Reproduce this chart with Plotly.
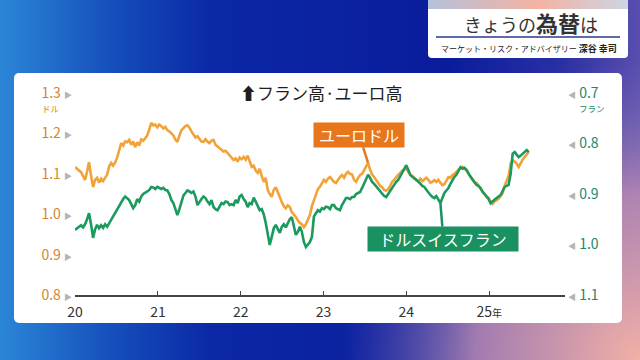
import base64
import pandas as pd
import plotly.graph_objects as go

# ---------------- data ----------------
eurusd = [1.117, 1.112, 1.108, 1.104, 1.095, 1.085, 1.105, 1.129, 1.095, 1.067, 1.085, 1.090, 1.078, 1.088, 1.082, 1.092,
          1.098, 1.118, 1.127, 1.120, 1.128, 1.140, 1.160, 1.176, 1.170, 1.180, 1.178, 1.184, 1.172, 1.180, 1.166, 1.178,
          1.170, 1.185, 1.182, 1.189, 1.195, 1.210, 1.226, 1.220, 1.222, 1.215, 1.222, 1.218, 1.212, 1.216, 1.208, 1.205,
          1.200, 1.195, 1.185, 1.179, 1.195, 1.208, 1.213, 1.218, 1.220, 1.214, 1.205, 1.198, 1.190, 1.193, 1.185, 1.180,
          1.179, 1.186, 1.180, 1.176, 1.182, 1.184, 1.172, 1.168, 1.164, 1.160, 1.155, 1.157, 1.151, 1.145, 1.140, 1.134,
          1.138, 1.130, 1.140, 1.136, 1.142, 1.135, 1.145, 1.130, 1.117, 1.120, 1.108, 1.102, 1.112, 1.095, 1.080, 1.090,
          1.060, 1.050, 1.043, 1.060, 1.067, 1.055, 1.040, 1.030, 1.020, 1.015, 1.022, 1.018, 1.005, 1.000, 0.993, 0.985,
          0.978, 0.975, 0.968, 0.975, 0.985, 0.998, 1.020, 1.035, 1.050, 1.062, 1.068, 1.077, 1.085, 1.080, 1.088, 1.092,
          1.085, 1.080, 1.077, 1.085, 1.092, 1.097, 1.090, 1.100, 1.105, 1.100, 1.098, 1.085, 1.080, 1.090, 1.097, 1.100,
          1.108, 1.118, 1.127, 1.110, 1.098, 1.092, 1.085, 1.075, 1.070, 1.067, 1.060, 1.058, 1.062, 1.070, 1.080, 1.085,
          1.092, 1.098, 1.102, 1.108, 1.110, 1.114, 1.105, 1.097, 1.095, 1.090, 1.085, 1.080, 1.088, 1.082, 1.086, 1.090,
          1.085, 1.078, 1.080, 1.084, 1.080, 1.085, 1.078, 1.072, 1.074, 1.085, 1.092, 1.090, 1.097, 1.100, 1.105, 1.110,
          1.114, 1.117, 1.112, 1.108, 1.100, 1.095, 1.088, 1.080, 1.077, 1.070, 1.062, 1.055, 1.050, 1.043, 1.040, 1.030,
          1.025, 1.032, 1.035, 1.038, 1.045, 1.052, 1.070, 1.085, 1.095, 1.125, 1.134, 1.130, 1.125, 1.117, 1.128, 1.135,
          1.142, 1.148, 1.154]

usdchf = [0.971, 0.968, 0.965, 0.962, 0.966, 0.960, 0.950, 0.938, 0.960, 0.987, 0.970, 0.961, 0.968, 0.962, 0.967, 0.960,
          0.965, 0.958, 0.950, 0.946, 0.938, 0.930, 0.925, 0.916, 0.910, 0.905, 0.908, 0.912, 0.920, 0.928, 0.922, 0.910,
          0.915, 0.905, 0.900, 0.898, 0.895, 0.892, 0.886, 0.887, 0.890, 0.886, 0.888, 0.890, 0.888, 0.892, 0.893, 0.900,
          0.912, 0.918, 0.930, 0.942, 0.930, 0.915, 0.903, 0.898, 0.893, 0.895, 0.898, 0.895, 0.905, 0.922, 0.915, 0.910,
          0.905, 0.908, 0.915, 0.920, 0.912, 0.926, 0.930, 0.932, 0.925, 0.918, 0.920, 0.915, 0.916, 0.922, 0.920, 0.922,
          0.912, 0.918, 0.905, 0.902, 0.910, 0.915, 0.926, 0.918, 0.920, 0.907, 0.915, 0.925, 0.932, 0.930, 0.940, 0.957,
          0.980, 1.001, 0.985, 0.968, 0.961, 0.970, 0.977, 0.965, 0.960, 0.966, 0.957, 0.950, 0.946, 0.962, 0.981, 0.975,
          0.965, 0.975, 0.995, 1.005, 1.000, 0.995, 0.985, 0.945, 0.938, 0.932, 0.935, 0.928, 0.930, 0.925, 0.926, 0.930,
          0.922, 0.922, 0.928, 0.930, 0.932, 0.922, 0.915, 0.908, 0.908, 0.910, 0.906, 0.906, 0.900, 0.898, 0.896, 0.888,
          0.880, 0.870, 0.862, 0.868, 0.876, 0.880, 0.885, 0.888, 0.895, 0.900, 0.904, 0.906, 0.900, 0.892, 0.888, 0.882,
          0.876, 0.872, 0.865, 0.856, 0.848, 0.843, 0.852, 0.862, 0.866, 0.870, 0.872, 0.875, 0.880, 0.884, 0.886, 0.892,
          0.898, 0.902, 0.906, 0.908, 0.904, 0.910, 0.918, 0.908, 0.898, 0.893, 0.888, 0.880, 0.872, 0.866, 0.862, 0.855,
          0.847, 0.850, 0.848, 0.852, 0.860, 0.866, 0.872, 0.878, 0.882, 0.884, 0.888, 0.895, 0.900, 0.906, 0.910, 0.918,
          0.914, 0.910, 0.908, 0.905, 0.902, 0.894, 0.886, 0.884, 0.882, 0.860, 0.820, 0.817, 0.822, 0.827, 0.824, 0.820,
          0.816, 0.813, 0.817]

date_start = "2020-01-01"
date_end = "2025-06-24"
eur_dates = pd.date_range(date_start, date_end, periods=len(eurusd))
chf_dates = pd.date_range(date_start, date_end, periods=len(usdchf))

x_tick_vals = ["2020-01-01", "2021-01-01", "2022-01-01", "2023-01-01", "2024-01-01", "2025-01-01"]
x_tick_text = ["20", "21", "22", "23", "24", "25<span style='font-size:10px'>年</span>"]
left_tick_vals = [0.8, 0.9, 1.0, 1.1, 1.2, 1.3]
left_tick_text = ["0.8", "0.9", "1.0", "1.1", "1.2", "1.3"]
right_tick_vals = [0.7, 0.8, 0.9, 1.0, 1.1]
right_tick_text = ["0.7", "0.8", "0.9", "1.0", "1.1"]

# ---------------- style ----------------
ORANGE = "#f2a236"
GREEN = "#1a9a5e"
ORANGE_TXT = "#d3852f"
GREEN_TXT = "#23876a"
FONT = "Noto Sans CJK JP, Noto Sans, sans-serif"
TRI = "<span style='color:#b4b4b4;font-size:8px'>%s</span>"

W, H = 640, 360
ML, MR, MT, MB = 75, 75, 93, 65
PW, PH = W - ML - MR, H - MT - MB


def px(x, y):
    return (x - ML) / PW, 1 - (y - MT) / PH


svg = f"""<svg xmlns='http://www.w3.org/2000/svg' width='{W}' height='{H}' viewBox='0 0 {W} {H}' preserveAspectRatio='none'>
<defs>
<linearGradient id='bg' x1='0' y1='0' x2='1' y2='0'>
<stop offset='0' stop-color='#2b86d6'/><stop offset='0.17' stop-color='#1650bd'/>
<stop offset='0.33' stop-color='#0b28a6'/><stop offset='0.7' stop-color='#0a1c9c'/>
<stop offset='0.88' stop-color='#2a30a4'/><stop offset='1' stop-color='#5a4eae'/>
</linearGradient>
<radialGradient id='pk' cx='640' cy='360' r='300' gradientUnits='userSpaceOnUse'>
<stop offset='0' stop-color='#f2b0a6' stop-opacity='1'/>
<stop offset='0.55' stop-color='#c592b4' stop-opacity='0.8'/>
<stop offset='1' stop-color='#8070b8' stop-opacity='0'/>
</radialGradient>
<linearGradient id='st' x1='0' y1='0' x2='1' y2='0'>
<stop offset='0' stop-color='#b4c2dc'/><stop offset='0.55' stop-color='#f4b2a2'/><stop offset='1' stop-color='#cbd6e4'/>
</linearGradient>
</defs>
<rect width='{W}' height='{H}' fill='url(#bg)'/>
<rect width='{W}' height='{H}' fill='url(#pk)'/>
<rect x='14' y='73' width='608' height='250' rx='5' fill='#ffffff'/>
<rect x='428' y='-6' width='200' height='64' rx='4' fill='#ffffff'/>
<rect x='428' y='0' width='200' height='9' fill='url(#st)'/>
<line x1='436' y1='37' x2='620' y2='37' stroke='#2a3a8c' stroke-width='1.5'/>
</svg>"""
bg_src = "data:image/svg+xml;base64," + base64.b64encode(svg.encode("utf-8")).decode("ascii")

fig = go.Figure()
fig.add_trace(go.Scatter(x=eur_dates, y=eurusd, mode="lines", line=dict(color=ORANGE, width=2.6),
                         name="ユーロドル", yaxis="y", hoverinfo="skip"))
fig.add_trace(go.Scatter(x=chf_dates, y=usdchf, mode="lines", line=dict(color=GREEN, width=2.6),
                         name="ドルスイスフラン", yaxis="y2", hoverinfo="skip"))

x0, y0 = px(0, 0)
fig.add_layout_image(dict(source=bg_src, xref="paper", yref="paper", x=x0, y=y0,
                          sizex=W / PW, sizey=H / PH, sizing="stretch",
                          xanchor="left", yanchor="top", layer="below"))

ann = []


def text_at(x, y, text, size, color, xanchor="center", **kw):
    ax_, ay_ = px(x, y)
    ann.append(dict(x=ax_, y=ay_, xref="paper", yref="paper", text=text, showarrow=False,
                    xanchor=xanchor, yanchor="middle", font=dict(size=size, color=color, family=FONT), **kw))


text_at(531, 22, "きょうの<b><span style='font-size:22px'>為替</span></b>は", 18, "#333333")
text_at(529, 48, "マーケット・リスク・アドバイザリー <b><span style='font-size:9px'>深谷 幸司</span></b>", 8, "#222222")
text_at(321, 92, "<b>⬆</b>フラン高·ユーロ高", 17, "#1e1e1e")
text_at(51, 108, "ドル", 8.5, ORANGE_TXT)
text_at(592, 108, "フラン", 8.5, GREEN_TXT)

# callout labels anchored on the series
i_e = max((k for k in range(len(eurusd)) if pd.Timestamp("2023-06-01") <= eur_dates[k] <= pd.Timestamp("2023-09-01")),
          key=lambda k: eurusd[k])
i_c = max((k for k in range(len(usdchf)) if pd.Timestamp("2024-04-15") <= chf_dates[k] <= pd.Timestamp("2024-07-01")),
          key=lambda k: usdchf[k])
ann.append(dict(x=eur_dates[i_e], y=eurusd[i_e], xref="x", yref="y", text="ユーロドル",
                showarrow=True, ax=-9, ay=-28, arrowhead=0, arrowwidth=2.5, arrowcolor="#e8761c", standoff=0,
                bgcolor="#e8761c", width=88, height=22, font=dict(size=16, color="white", family=FONT)))
ann.append(dict(x=chf_dates[i_c], y=usdchf[i_c], xref="x", yref="y2", text="ドルスイスフラン",
                showarrow=True, ax=3, ay=36, arrowhead=0, arrowwidth=2.5, arrowcolor="#1a9160", standoff=0,
                bgcolor="#1a9160", width=148, height=22, font=dict(size=16, color="white", family=FONT)))

fig.update_layout(
    width=W, height=H,
    margin=dict(l=ML, r=MR, t=MT, b=MB, autoexpand=False),
    paper_bgcolor="#0a1c9c", plot_bgcolor="rgba(0,0,0,0)",
    showlegend=False,
    font=dict(family=FONT),
    annotations=ann,
    xaxis=dict(type="date", range=["2020-01-01", "2025-12-01"], tickvals=x_tick_vals, ticktext=x_tick_text,
               showgrid=False, zeroline=False, showline=True, linecolor="#444444", linewidth=1.5,
               ticks="inside", ticklen=4, tickcolor="#444444", tickwidth=1, ticklabelstandoff=4,
               tickfont=dict(size=14, color="#333333", family=FONT)),
    yaxis=dict(range=[0.8, 1.3], tickvals=left_tick_vals,
               ticktext=[t + " " + TRI % "▶" for t in left_tick_text],
               showgrid=False, zeroline=False, showline=False, ticks="", ticklabelstandoff=2,
               tickfont=dict(size=14, color=ORANGE_TXT, family=FONT)),
    yaxis2=dict(range=[1.1, 0.7], overlaying="y", side="right", tickvals=right_tick_vals,
                ticktext=[TRI % "◀" + " " + t for t in right_tick_text],
                showgrid=False, zeroline=False, showline=False, ticks="", ticklabelstandoff=2,
                tickfont=dict(size=14, color=GREEN_TXT, family=FONT)),
)

fig.write_html("out.html", config={"displayModeBar": False, "staticPlot": True},
               post_script="document.body.style.margin='0';document.body.style.overflow='hidden';")
